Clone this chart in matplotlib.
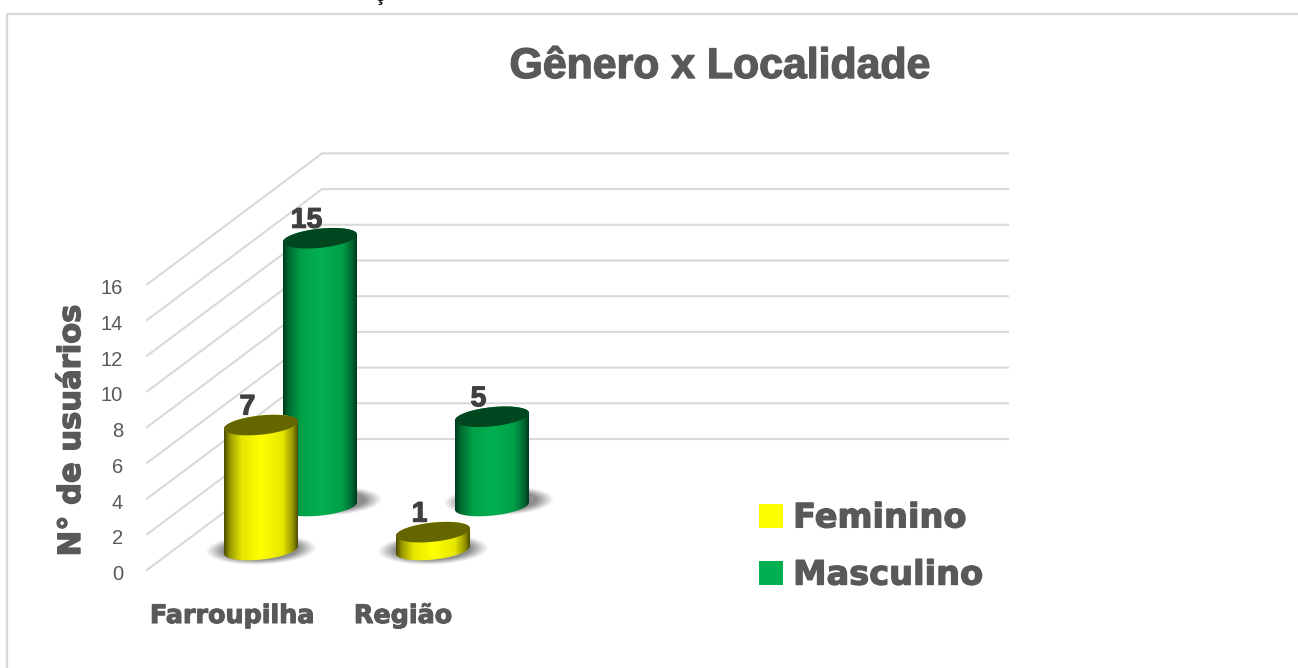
import numpy as np
import matplotlib
matplotlib.use("Agg")
import matplotlib.pyplot as plt
import matplotlib.patheffects as pe
from matplotlib.colors import LinearSegmentedColormap
from matplotlib.patches import Patch, Polygon
from matplotlib.transforms import ScaledTranslation

categories = ["Farroupilha", "Região"]
series_names = ["Feminino", "Masculino"]
feminino = [7, 1]
masculino = [15, 5]
y_ticks = [0, 2, 4, 6, 8, 10, 12, 14, 16]

W, H = 1298, 668
UNIT = 17.85          # pixels per value unit
Y0 = 570              # pixel row of value 0 on the front of the wall
GREY = "#595959"
SANS = "DejaVu Sans"
ARIAL = "Liberation Sans"

fig = plt.figure(figsize=(W / 100, H / 100), dpi=100, facecolor="white")
ax = fig.add_axes([0, 0, 1, 1])
ax.set_facecolor("white")


def yv(px):
    """pixel row to value-axis units"""
    return (Y0 - px) / UNIT


ax.set_aspect("auto")
XLIM, YLIM = (0, W), (yv(H), yv(0))

# frame
ax.plot([7, 7, W], [yv(H), yv(14.5), yv(14.5)], color="#D9D9D9", lw=1.6, zorder=1)

# walls and gridlines
DEPTH_X, DEPTH_Y = 175, 131
for v in y_ticks:
    ax.plot([147, 147 + DEPTH_X, 1008], [v, v + DEPTH_Y / UNIT, v + DEPTH_Y / UNIT],
            color="#D9D9D9", lw=1.5, zorder=1, solid_joinstyle="miter")

cmaps = {
    "Feminino": LinearSegmentedColormap.from_list("f", [(0, "#4a4a00"), (.08, "#9a9a00"), (.24, "#e6e600"),
                                                        (.5, "#ffff00"), (.8, "#e6e600"), (.94, "#8f8f00"), (1, "#4a4a00")]),
    "Masculino": LinearSegmentedColormap.from_list("m", [(0, "#003a1a"), (.08, "#006c32"), (.24, "#00a048"),
                                                         (.5, "#00b050"), (.8, "#00a048"), (.94, "#006430"), (1, "#003a1a")]),
}
top_col = {"Feminino": "#666600", "Masculino": "#00461F"}
legend_col = {"Feminino": "#FFFF00", "Masculino": "#00B050"}

RX, RY, TILT = 37, 9.6, np.deg2rad(6)
CAT_STEP = 172
SER_DX, SER_DY = 59, 44
BASE_X, BASE_PX = 261, 550


def ellipse(cx, cy_px, t):
    x = RX * np.cos(t)
    y = RY * np.sin(t)
    # y in pixels downwards; right side is raised
    return cx + x, cy_px + y - x * np.tan(TILT) * 0.95


def shadow(cx, cy_px, z):
    xx, yy = np.meshgrid(np.linspace(-1, 1, 120), np.linspace(-1, 1, 60))
    yy = yy + xx * 0.12
    r = np.sqrt(xx ** 2 + yy ** 2)
    a = np.clip((1 - r) / 0.32, 0, 1) ** 1.1
    img = np.zeros((60, 120, 4))
    img[..., :3] = 0.56
    img[..., 3] = a
    ax.imshow(img, extent=(cx - 56, cx + 56, yv(cy_px + 15), yv(cy_px - 15)),
              aspect="auto", zorder=z, interpolation="bilinear", origin="upper")


def cylinder(cx, base_px, value, name, z):
    top_px = base_px - value * UNIT
    t = np.linspace(0, 2 * np.pi, 160)
    tx, ty = ellipse(cx, top_px, t)
    # body outline: upper half of top ellipse + lower half of the base ellipse
    lo = np.linspace(0, np.pi, 80)
    bx, by = ellipse(cx, base_px, lo)
    up = np.linspace(np.pi, 2 * np.pi, 80)
    ux, uy = ellipse(cx, top_px, up)
    outline = np.column_stack([np.r_[bx, ux], yv(np.r_[by, uy])])
    im = ax.imshow(np.linspace(0, 1, 256)[None, :], cmap=cmaps[name], vmin=0, vmax=1,
                   extent=(cx - RX, cx + RX, yv(base_px + 16), yv(top_px - 16)),
                   aspect="auto", zorder=z, interpolation="bilinear")
    clip = Polygon(outline, closed=True, transform=ax.transData, fc="none", ec="none")
    ax.add_patch(clip)
    im.set_clip_path(clip)
    ax.fill(tx, yv(ty), color=top_col[name], zorder=z + 0.1, lw=0)
    ax.text(cx - 13.5, yv(top_px - 17.5), str(value), ha="center", va="center", fontsize=20.5,
            fontweight="bold", family=ARIAL, color="#404040", zorder=20,
            path_effects=[pe.withStroke(linewidth=0.8, foreground="#404040")])


z = 3
for i in range(len(categories)):
    # back series first, so the front one overlaps it
    for name, vals, dx, dy in [("Masculino", masculino, SER_DX, -SER_DY), ("Feminino", feminino, 0, 0)]:
        cx = BASE_X + CAT_STEP * i + dx
        base = BASE_PX + dy
        off = 7 if name == "Masculino" else 0
        shadow(cx + off, base - (5 if name == "Masculino" else 0), z)
        cylinder(cx, base, vals[i], name, z + 1)
        z += 2

# value axis
ax.set_yticks(y_ticks)
ax.set_yticklabels([str(v) for v in y_ticks], family=ARIAL, fontsize=14.5, color=GREY)
ax.tick_params(axis="y", length=0, pad=-123 * 0.72, labelleft=True)
shift = ScaledTranslation(0, -2.5 / 100, fig.dpi_scale_trans)
for lab in ax.get_yticklabels():
    lab.set_transform(lab.get_transform() + shift)

# category axis
ax.set_xticks([232, 403])
ax.set_xticklabels(categories, family=SANS, fontsize=18.3, fontweight="bold", color=GREY)
ax.tick_params(axis="x", length=0, pad=-64 * 0.72)
for lab in ax.get_xticklabels():
    lab.set_path_effects([pe.withStroke(linewidth=0.8, foreground=GREY)])

ax.set_ylabel("N° de usuários", family=SANS, fontsize=22, fontweight="bold", color=GREY,
              path_effects=[pe.withStroke(linewidth=1.0, foreground=GREY)])
ax.yaxis.set_label_coords(86 / W, 1 - 431 / H)

ax.text(719.5, yv(78), "Gênero x Localidade", ha="center", va="baseline", family=ARIAL,
        fontsize=30.8, fontweight="bold", color=GREY, zorder=20,
        path_effects=[pe.withStroke(linewidth=1.0, foreground=GREY)])

# stray cut-off glyph on top of the picture
ax.text(380, yv(1), "ç", ha="center", va="baseline", family=ARIAL, fontsize=14,
        fontweight="bold", color="black", zorder=20)

handles = [Patch(fc=legend_col[n], ec="none", label=n) for n in series_names]
FS = 24.2
leg = ax.legend(handles=handles, loc="center left", bbox_to_anchor=(759 / W, 1 - 546.5 / H),
                frameon=False, prop={"family": SANS, "weight": "bold", "size": FS},
                labelcolor=GREY, handlelength=24 * 0.72 / FS, handleheight=24 * 0.72 / FS,
                handletextpad=0.3, labelspacing=0.72, borderpad=0, borderaxespad=0)
for t in leg.get_texts():
    t.set_path_effects([pe.withStroke(linewidth=0.9, foreground=GREY)])

ax.set_xlim(*XLIM)
ax.set_ylim(*YLIM)
for s in ax.spines.values():
    s.set_visible(False)

fig.savefig("out.png", dpi=100, facecolor="white")
